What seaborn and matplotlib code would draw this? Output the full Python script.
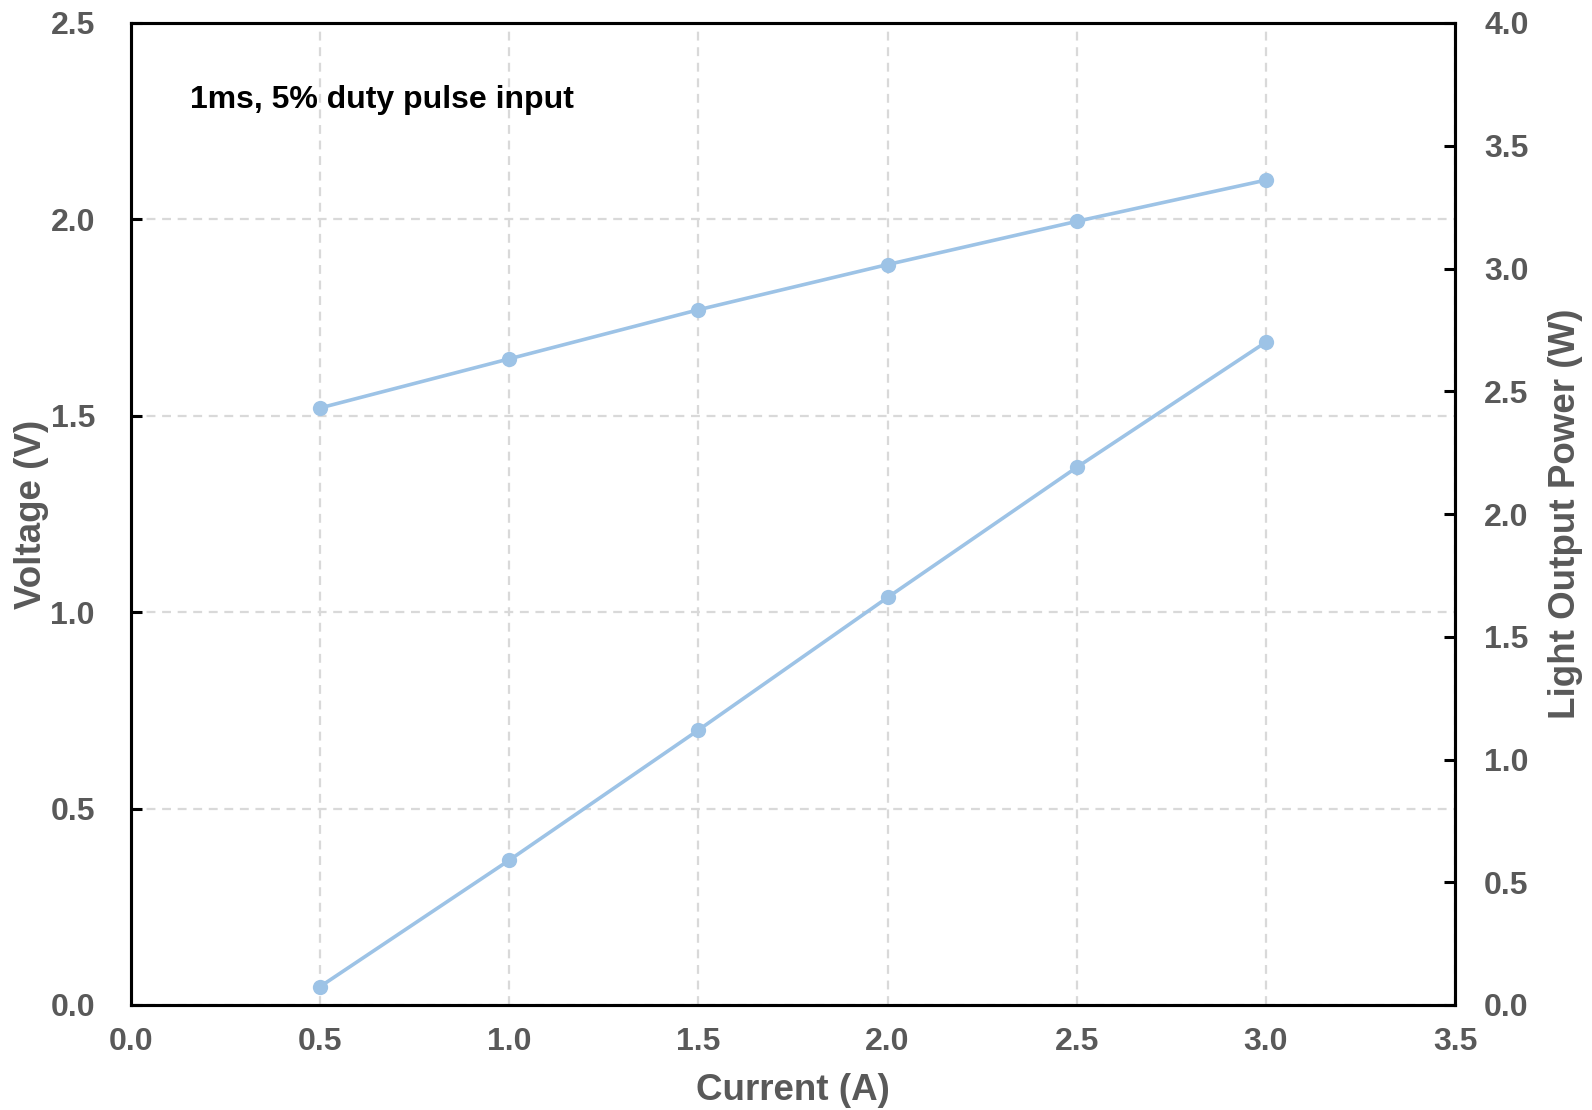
import matplotlib
matplotlib.use("Agg")
import matplotlib.pyplot as plt
import seaborn as sns
import pandas as pd

current = [0.5, 1.0, 1.5, 2.0, 2.5, 3.0]
voltage = [1.52, 1.645, 1.77, 1.885, 1.995, 2.10]
power = [0.075, 0.59, 1.12, 1.66, 2.19, 2.70]
annotation = "1ms, 5% duty pulse input"

sns.set_style("white")
plt.rcParams['font.family'] = ['Liberation Sans', 'DejaVu Sans']
plt.rcParams['font.weight'] = 'bold'

line_color = "#9DC3E6"
tick_color = "#595959"
grid_color = "#D9D9D9"

df = pd.DataFrame({"current": current, "voltage": voltage, "power": power})

fig = plt.figure(figsize=(15.92, 11.10), dpi=100)
ax = fig.add_axes([131/1592, 1-1005/1110, (1455-131)/1592, (1005-23)/1110])
ax2 = ax.twinx()

sns.lineplot(data=df, x="current", y="voltage", ax=ax, color=line_color,
             linewidth=2.6, marker="o", markersize=11, markeredgewidth=0)
sns.lineplot(data=df, x="current", y="power", ax=ax2, color=line_color,
             linewidth=2.6, marker="o", markersize=11, markeredgewidth=0)

ax.set_xlim(0, 3.5)
ax.set_ylim(0, 2.5)
ax2.set_ylim(0, 4.0)
ax.set_xticks([0, 0.5, 1.0, 1.5, 2.0, 2.5, 3.0, 3.5])
ax.set_yticks([0, 0.5, 1.0, 1.5, 2.0, 2.5])
ax2.set_yticks([0, 0.5, 1.0, 1.5, 2.0, 2.5, 3.0, 3.5, 4.0])
ax.set_xticklabels([f"{v:.1f}" for v in ax.get_xticks()])
ax.set_yticklabels([f"{v:.1f}" for v in ax.get_yticks()])
ax2.set_yticklabels([f"{v:.1f}" for v in ax2.get_yticks()])

ax.grid(True, color=grid_color, linestyle=(0, (4, 3)), linewidth=1.6)
ax2.grid(False)
ax.set_axisbelow(True)

for a in (ax, ax2):
    for s in a.spines.values():
        s.set_visible(True)
        s.set_color("black")
        s.set_linewidth(2.2)

ax.tick_params(axis="x", direction="in", length=8, width=2.2, pad=16,
               labelsize=23, labelcolor=tick_color, color="black")
ax.tick_params(axis="y", direction="in", length=8, width=2.2, pad=26,
               labelsize=23, labelcolor=tick_color, color="black")
ax2.tick_params(axis="y", direction="in", length=8, width=2.2, pad=21,
                labelsize=23, labelcolor=tick_color, color="black")

ax.set_xlabel("Current (A)", fontsize=26.5, fontweight="bold", color=tick_color, labelpad=11)
ax.set_ylabel("Voltage (V)", fontsize=26.5, fontweight="bold", color=tick_color, labelpad=1)
ax2.set_ylabel("Light Output Power (W)", fontsize=26.5, fontweight="bold", color=tick_color,
               labelpad=14)

ax.text(0.155, 2.305, annotation, fontsize=23, fontweight="bold", color="black",
        ha="left", va="center")

fig.savefig("out.png", dpi=100)
